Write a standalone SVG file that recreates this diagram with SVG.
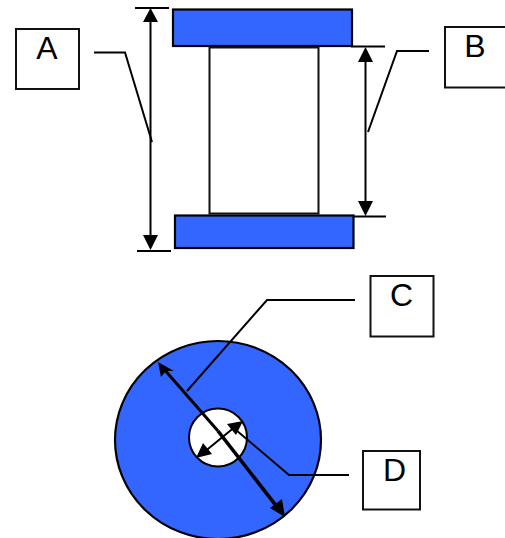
<svg xmlns="http://www.w3.org/2000/svg" width="505" height="538" viewBox="0 0 505 538">
<style>
.box{fill:#fff;stroke:#111;stroke-width:2}
.blue{fill:#3366ff;stroke:#000;stroke-width:2.200}
.ln{fill:none;stroke:#000;stroke-width:2}
.ah{fill:#000;stroke:none}
text{font-family:"Liberation Sans",Arial,sans-serif;font-size:32px;fill:#000;text-anchor:middle}
</style>
<rect width="505" height="538" fill="#fff"/>
<g id="top-plate"><rect class="blue" x="173" y="9.500" width="179" height="36.500"/></g>
<g id="cylinder"><rect class="box" x="209.500" y="47.500" width="109" height="166"/></g>
<g id="bottom-plate"><rect class="blue" x="175" y="215.500" width="178.500" height="32.500"/></g>
<g id="disc"><ellipse class="blue" cx="218" cy="440" rx="103" ry="99"/><circle cx="218" cy="437.500" r="29" fill="#fff" stroke="#000" stroke-width="2"/></g>
<g id="label-a"><rect class="box" x="16" y="29" width="63" height="60"/><text x="47" y="59">A</text></g>
<g id="label-b"><rect class="box" x="445" y="27" width="62" height="60.500"/><text x="475" y="57">B</text></g>
<g id="label-c"><rect class="box" x="370.500" y="276" width="63" height="60.500"/><text x="401.500" y="306">C</text></g>
<g id="label-d"><rect class="box" x="363" y="451" width="57" height="58.500"/><text x="394.500" y="481">D</text></g>
<g id="connectors">
<path class="ln" d="M135 8H169M137 251H171M351 46.500H385M353 216.500H386"/>
<path class="ln" d="M150.500 12V245M365.500 50V213"/>
<polygon class="ah" points="150.500,8 143,22 158,22"/><polygon class="ah" points="150.500,250 143,235 158,235"/>
<polygon class="ah" points="365.500,47 358,62 373,62"/><polygon class="ah" points="365.500,216 358,201 373,201"/>
<path class="ln" d="M94 52.500H125L152 142M429 51H397L368 132"/>
<path class="ln" d="M187 391L267 300H355M236 430L289 475H349"/>
<path fill="none" stroke="#000" stroke-width="3" d="M163 368L218 431"/>
<path fill="none" stroke="#000" stroke-width="3.600" d="M218 431L281 512"/>
<path fill="none" stroke="#000" stroke-width="2" d="M203 453L236 426"/>
<polygon class="ah" points="158,362 174,371 166,371 161,377"/>
<polygon class="ah" points="285,517 270,508 282,499"/>
<polygon class="ah" points="196,458 203,443 212,454"/>
<polygon class="ah" points="243,421 236,435 227,424"/>
</g>
</svg>
